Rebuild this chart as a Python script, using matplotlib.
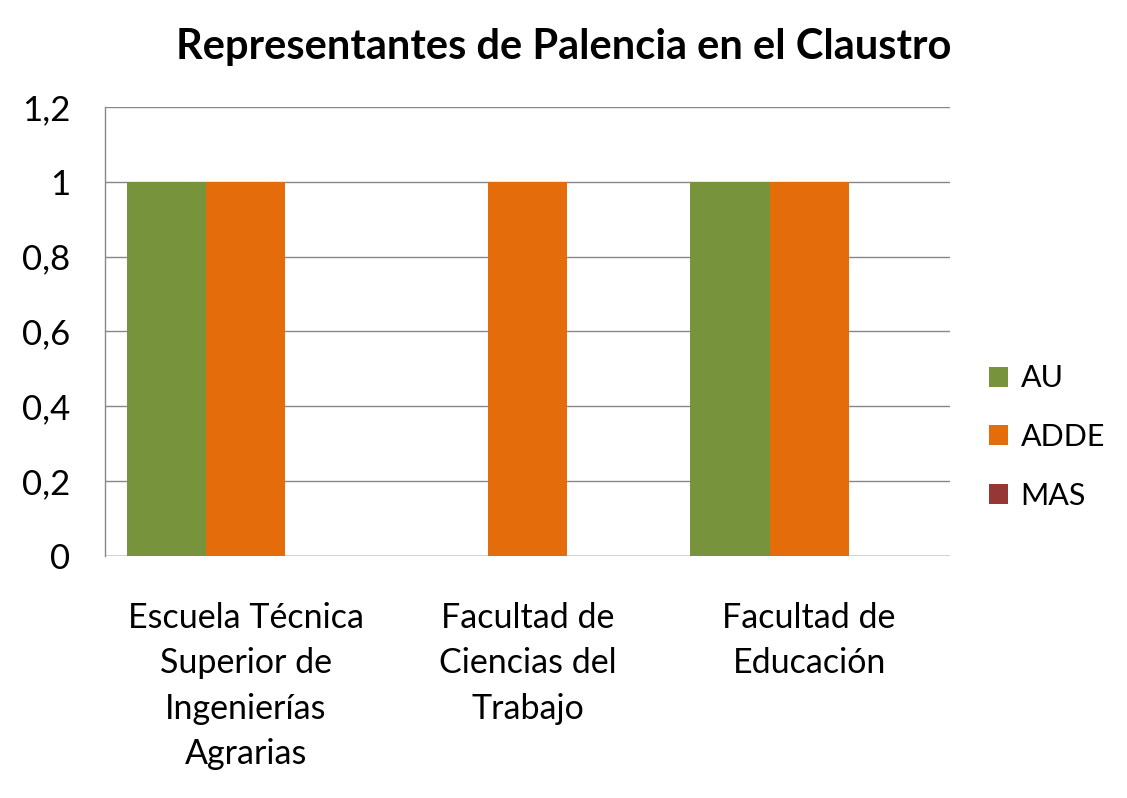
import matplotlib
matplotlib.use("Agg")
import matplotlib.pyplot as plt
import numpy as np

categories = ["Escuela Técnica\nSuperior de\nIngenierías\nAgrarias",
              "Facultad de\nCiencias del\nTrabajo",
              "Facultad de\nEducación"]
series_names = ["AU", "ADDE", "MAS"]
au = [1, 0, 1]
adde = [1, 1, 1]
mas = [0, 0, 0]
yticks = [0, 0.2, 0.4, 0.6, 0.8, 1.0, 1.2]
ytick_labels = ["0", "0,2", "0,4", "0,6", "0,8", "1", "1,2"]
title = "Representantes de Palencia en el Claustro"

colors = ["#77933C", "#E46C0A", "#953735"]

plt.rcParams['font.family'] = ['Lato', 'DejaVu Sans']

fig = plt.figure(figsize=(11.27, 7.98), dpi=100)
ax = fig.add_axes([105/1127, 1-556/798, (950-105)/1127, (556-107)/798])

x = np.arange(len(categories))
w = 0.2816
for i, (vals, name) in enumerate(zip([au, adde, mas], series_names)):
    ax.bar(x + (i-1)*w, vals, w, color=colors[i], label=name, zorder=3)

ax.set_xlim(-0.5, len(categories)-0.5)
ax.set_ylim(0, 1.2)
ax.set_yticks(yticks)
ax.set_yticklabels(ytick_labels, fontsize=25)
ax.set_xticks(x)
ax.set_xticklabels(categories, fontsize=24.5, linespacing=1.52, va='top')
ax.tick_params(axis='y', length=0, pad=25)
ax.tick_params(axis='x', length=0, pad=33)
ax.yaxis.grid(True, color='#878787', linewidth=1, zorder=0)
for s in ['top', 'right', 'bottom']:
    ax.spines[s].set_visible(False)
ax.spines['left'].set_color('#878787')
ax.spines['left'].set_linewidth(1)
ax.axhline(0, color='#878787', linewidth=1, zorder=4)

fig.text(564/1127, 1-47/798, title, fontsize=30, fontweight='bold',
         ha='center', va='center')

handles, labels = ax.get_legend_handles_labels()
leg = fig.legend(handles, labels, loc='center left',
                 bbox_to_anchor=(961/1127, 1-437/798), frameon=False,
                 fontsize=22, handlelength=0.65, handleheight=0.65,
                 labelspacing=1.0, handletextpad=0.4)

fig.savefig("out.png", dpi=100)
